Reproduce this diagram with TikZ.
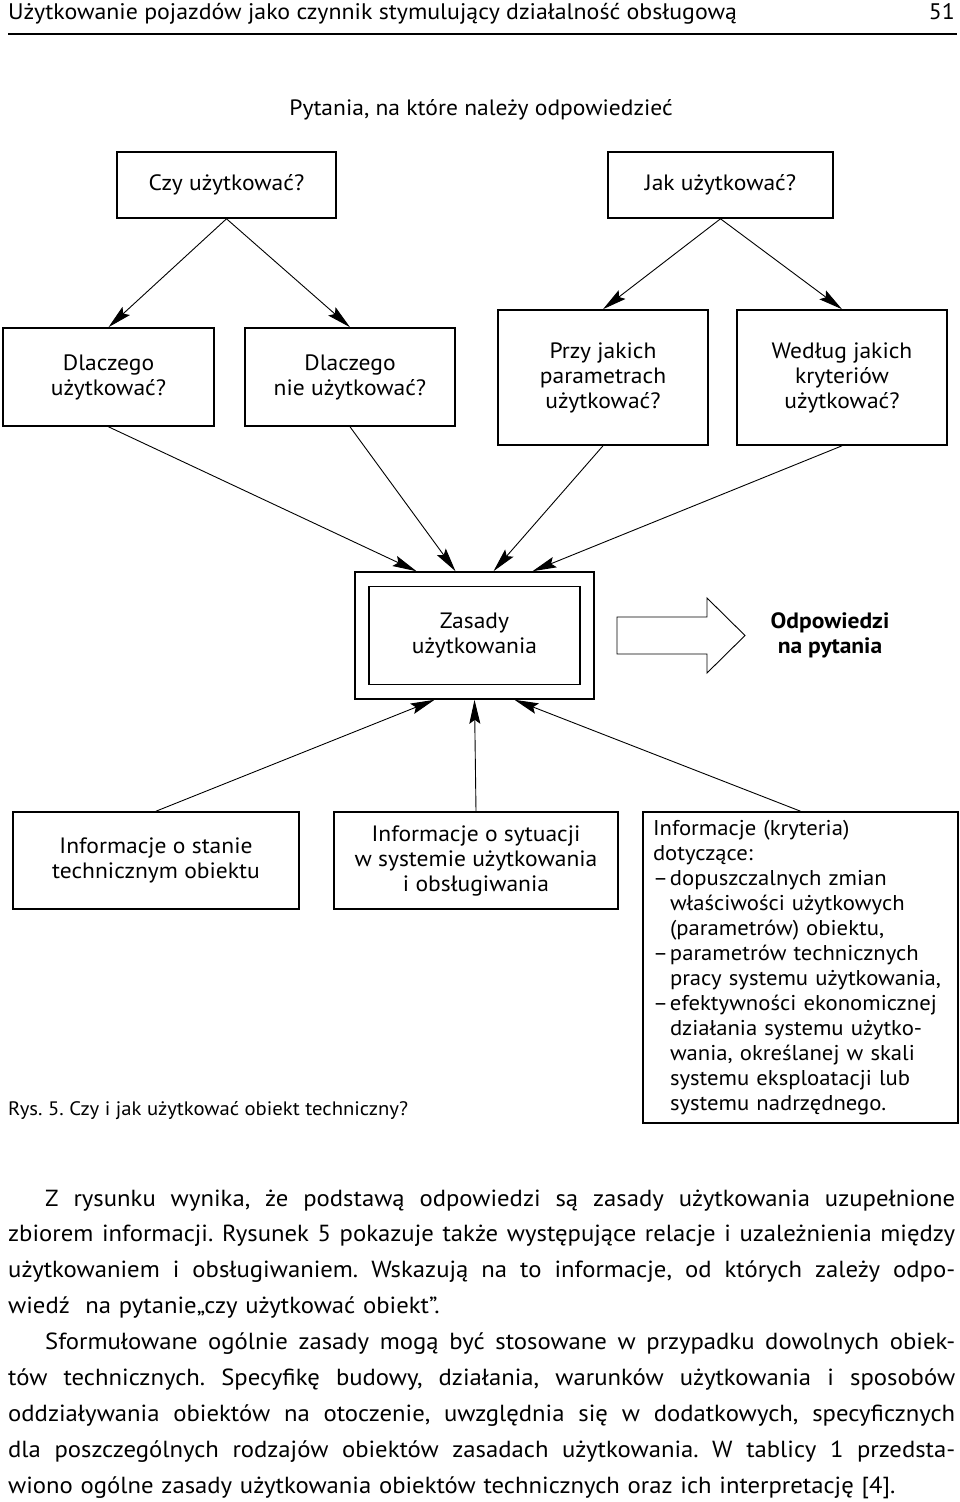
\documentclass[tikz,border=0pt]{standalone}
\usepackage{fontspec}
\setmainfont{PT Sans}[FakeStretch=1.06]
\usetikzlibrary{arrows.meta,calc}

\newcommand{\diag}{\fontsize{22.2}{25}\selectfont\frenchspacing}
\newcommand{\listfont}{\fontsize{21.4}{25}\selectfont\frenchspacing}
\newcommand{\headfont}{\fontsize{22.5}{26}\selectfont\frenchspacing}
\newcommand{\bodyfont}{\fontsize{23.3}{35.9}\selectfont\frenchspacing}
% one justified line of the body text
\def\fullline#1{\leavevmode\hbox to 947pt{\wordsplit#1 \relax}}
\def\wordsplit#1 #2\relax{#1\if\relax\detokenize{#2}\relax\else\hskip 0.17em plus 1fil\relax\wordsplit#2\relax\fi}

\tikzset{
  box/.style={draw, line width=1.6pt, inner sep=0pt, align=center, font=\diag},
  pointer/.style={-{Stealth[length=24pt,width=11pt,inset=4pt]}, line width=0.9pt},
}

\begin{document}
\begin{tikzpicture}[x=1pt,y=-1pt]
\useasboundingbox (0,0) rectangle (960,1502);
% running head
\node[anchor=base west, inner sep=0, font=\headfont] (head) at (8,19) {Użytkowanie pojazdów jako czynnik stymulujący działalność obsługową};
\node[anchor=base east, inner sep=0, font=\headfont] (page) at (955,19) {51};
\draw[line width=1.6pt] (head.south west |- 0,34) -- (957,34);

\node[font=\diag, inner sep=0, anchor=base] (title) at (481,115) {Pytania, na które należy odpowiedzieć};

% questions
\node[box, minimum width=219pt, minimum height=66pt] (czy) at (226.5,185) {Czy użytkować?};
\node[box, minimum width=225pt, minimum height=66pt] (jak) at (720.5,185) {Jak użytkować?};
\node[box, minimum width=211pt, minimum height=98pt] (dlu) at (108.5,377) {Dlaczego\\użytkować?};
\node[box, minimum width=210pt, minimum height=98pt] (dln) at (350,377) {Dlaczego\\nie użytkować?};
\node[box, minimum width=210pt, minimum height=135pt] (przy) at (603,377.5) {Przy jakich\\parametrach\\użytkować?};
\node[box, minimum width=210pt, minimum height=135pt] (wedl) at (842,377.5) {Według jakich\\kryteriów\\użytkować?};

\draw[pointer] (czy.south) -- (dlu.north);
\draw[pointer] (czy.south) -- (dln.north);
\draw[pointer] (jak.south) -- (przy.north);
\draw[pointer] (jak.south) -- (wedl.north);

% rules
\node[box, minimum width=239pt, minimum height=127pt] (zas) at (474.5,635.5) {};
\node[box, minimum width=211pt, minimum height=98pt] (zasin) at (zas) {Zasady\\użytkowania};
\node[font=\diag\bfseries, align=center] (odp) at (830,635) {Odpowiedzi\\na pytania};
\draw[line width=0.9pt] (617,617) -- (707,617) -- (707,598) -- (745,635.5) -- (707,673) -- (707,654) -- (617,654) -- cycle;

\draw[pointer] (dlu.south) -- ([xshift=-58pt]zas.north);
\draw[pointer] (dln.south) -- ([xshift=-19pt]zas.north);
\draw[pointer] (przy.south) -- ([xshift=19pt]zas.north);
\draw[pointer] (wedl.south) -- ([xshift=58pt]zas.north);

% information
\node[box, minimum width=286pt, minimum height=97pt] (inf1) at (156,860.5) {Informacje o stanie\\technicznym obiektu};
\node[box, minimum width=284pt, minimum height=97pt] (inf2) at (476,860.5) {Informacje o sytuacji\\w systemie użytkowania\\i obsługiwania};
\node[box, minimum width=315pt, minimum height=311pt, text width=295pt, align=left, font=\listfont] (inf3) at (800.5,967.5) {Informacje (kryteria)\\dotyczące:\\
\makebox[17pt][l]{–}dopuszczalnych zmian\\
\hspace*{17pt}właściwości użytkowych\\
\hspace*{17pt}(parametrów) obiektu,\\
\makebox[17pt][l]{–}parametrów technicznych\\
\hspace*{17pt}pracy systemu użytkowania,\\
\makebox[17pt][l]{–}efektywności ekonomicznej\\
\hspace*{17pt}działania systemu użytko-\\
\hspace*{17pt}wania, określanej w skali\\
\hspace*{17pt}systemu eksploatacji lub\\
\hspace*{17pt}systemu nadrzędnego.};

\draw[pointer] (inf1.north) -- ([xshift=-40pt]zas.south);
\draw[pointer] (inf2.north) -- (zas.south);
\draw[pointer] (inf3.north) -- ([xshift=40pt]zas.south);

\node[anchor=base west, inner sep=0, font=\fontsize{19.5}{22}\selectfont\frenchspacing] (caption) at (8,1115) {Rys. 5. Czy i jak użytkować obiekt techniczny?};

% body text
\node[anchor=base west, inner sep=0, text width=947pt, align=left, font=\bodyfont] (body) at (8,1206) {%
\fullline{\hspace*{37pt}Z rysunku wynika, że podstawą odpowiedzi są zasady użytkowania uzupełnione}\\
\fullline{zbiorem informacji. Rysunek 5 pokazuje także występujące relacje i uzależnienia między}\\
\fullline{użytkowaniem i obsługiwaniem. Wskazują na to informacje, od których zależy odpo-}\\
wiedź\ \ na pytanie„czy użytkować obiekt”.\\
\fullline{\hspace*{37pt}Sformułowane ogólnie zasady mogą być stosowane w przypadku dowolnych obiek-}\\
\fullline{tów technicznych. Specyfikę budowy, działania, warunków użytkowania i sposobów}\\
\fullline{oddziaływania obiektów na otoczenie, uwzględnia się w dodatkowych, specyficznych}\\
\fullline{dla poszczególnych rodzajów obiektów zasadach użytkowania. W tablicy 1 przedsta-}\\
wiono ogólne zasady użytkowania obiektów technicznych oraz ich interpretację [4].};
\end{tikzpicture}
\end{document}
